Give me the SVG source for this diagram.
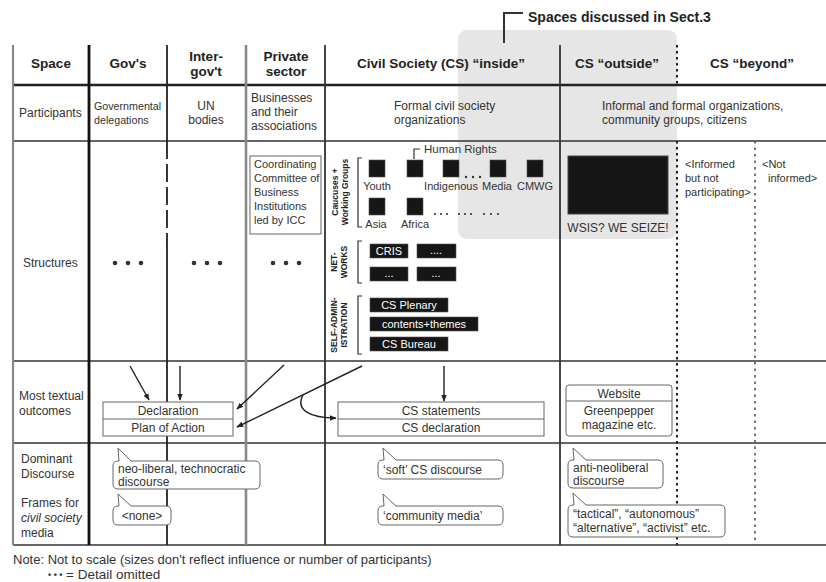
<svg xmlns="http://www.w3.org/2000/svg" width="826" height="582" viewBox="0 0 826 582">
<defs>
<style>
text{font-family:"Liberation Sans",Arial,sans-serif;font-size:12px;fill:#333}
.b{font-weight:bold;fill:#222;font-size:13.5px}
.c{text-anchor:middle}
.s{font-size:11px}
.rot{font-size:8.5px;font-weight:bold;text-anchor:middle;fill:#222}
.w{fill:#fff;font-size:11px;text-anchor:middle}
.it{font-style:italic}
.ln{stroke:#333;stroke-width:1.6;fill:none}
.box{fill:#fff;stroke:#666;stroke-width:1}
.blk{fill:#161616;stroke:#555;stroke-width:0.6}
.arr{stroke:#222;stroke-width:1.4;fill:none;marker-end:url(#ah)}
.brk{stroke:#333;stroke-width:1.2;fill:none}
.dot{fill:#333}
</style>
<marker id="ah" viewBox="0 0 10 10" refX="9" refY="5" markerWidth="7" markerHeight="7" orient="auto" markerUnits="userSpaceOnUse"><path d="M0,1 L10,5 L0,9 z" fill="#222"/></marker>
<g id="bigdots"><circle cx="-13" cy="0" r="2.3"/><circle cx="0" cy="0" r="2.3"/><circle cx="13" cy="0" r="2.3"/></g>
</defs>
<rect width="826" height="582" fill="#fff"/>

<g id="sect3">
<rect x="458" y="30" width="219" height="209" rx="9" fill="#e6e6e6"/>
<path d="M504,43 V13 H523" stroke="#333" stroke-width="2" fill="none"/>
<text x="528" y="22" class="b" style="font-size:14px">Spaces discussed in Sect.3</text>
</g>

<g id="grid">
<line x1="13" y1="85" x2="826" y2="85" stroke="#222" stroke-width="2.6"/>
<line x1="13" y1="141" x2="826" y2="141" class="ln"/>
<line x1="13" y1="361" x2="826" y2="361" class="ln"/>
<line x1="13" y1="443" x2="826" y2="443" class="ln"/>
<line x1="13" y1="545" x2="826" y2="545" class="ln"/>
<line x1="13" y1="45" x2="13" y2="545" stroke="#888" stroke-width="2.2"/>
<line x1="89" y1="45" x2="89" y2="545" stroke="#111" stroke-width="2.8"/>
<line x1="167" y1="45" x2="167" y2="141" stroke="#222" stroke-width="1.8"/>
<line x1="167" y1="141" x2="167" y2="245" stroke="#222" stroke-width="1.8" stroke-dasharray="18,5"/>
<line x1="167" y1="245" x2="167" y2="545" stroke="#222" stroke-width="1.8"/>
<line x1="246" y1="45" x2="246" y2="545" stroke="#888" stroke-width="2.6"/>
<line x1="325" y1="45" x2="325" y2="545" stroke="#333" stroke-width="1.8"/>
<line x1="560" y1="45" x2="560" y2="545" stroke="#333" stroke-width="1.8"/>
<line x1="677" y1="45" x2="677" y2="85" stroke="#222" stroke-width="2" stroke-dasharray="2.5,3.5"/>
<line x1="677" y1="141" x2="677" y2="545" stroke="#222" stroke-width="2" stroke-dasharray="2.5,3.5"/>
<line x1="755" y1="141" x2="755" y2="545" stroke="#555" stroke-width="1.6" stroke-dasharray="2.5,4"/>
</g>

<g id="header">
<text x="51" y="68" class="b c">Space</text>
<text x="128" y="68" class="b c">Gov's</text>
<text x="206" y="61" class="b c">Inter-</text>
<text x="206" y="76" class="b c">gov't</text>
<text x="286" y="61" class="b c">Private</text>
<text x="286" y="76" class="b c">sector</text>
<text x="441" y="68" class="b c">Civil Society (CS) “inside”</text>
<text x="617" y="68" class="b c">CS “outside”</text>
<text x="752" y="68" class="b c">CS “beyond”</text>
</g>

<g id="participants">
<text x="19" y="117">Participants</text>
<text x="94" y="110" style="font-size:10.7px">Governmental</text>
<text x="94" y="124" style="font-size:10.7px">delegations</text>
<text x="206" y="110" class="c">UN</text>
<text x="206" y="124" class="c">bodies</text>
<text x="251" y="102">Businesses</text>
<text x="251" y="116">and their</text>
<text x="251" y="130">associations</text>
<text x="394" y="110">Formal civil society</text>
<text x="394" y="124">organizations</text>
<text x="602" y="110">Informal and formal organizations,</text>
<text x="602" y="124">community groups, citizens</text>
</g>

<g id="structures">
<text x="23" y="267">Structures</text>
<use href="#bigdots" x="128" y="263" class="dot"/>
<use href="#bigdots" x="207" y="263" class="dot"/>
<use href="#bigdots" x="286" y="263" class="dot"/>
</g>

<g id="icc">
<rect x="250" y="156" width="71" height="78" class="box"/>
<text x="254" y="168" class="s">Coordinating</text>
<text x="254" y="182" class="s">Committee of</text>
<text x="254" y="196" class="s">Business</text>
<text x="254" y="210" class="s">Institutions</text>
<text x="254" y="224" class="s">led by ICC</text>
</g>

<g id="caucuses">
<text transform="translate(338,192) rotate(-90)" class="rot">Caucuses +</text>
<text transform="translate(347.5,192) rotate(-90)" class="rot">Working Groups</text>
<path d="M362,158 H358 V227 H362" class="brk"/>
<rect x="369" y="160" width="16" height="17" class="blk"/>
<rect x="407" y="160" width="16" height="17" class="blk"/>
<rect x="443" y="160" width="16" height="17" class="blk"/>
<rect x="490" y="160" width="16" height="17" class="blk"/>
<rect x="527" y="160" width="16" height="17" class="blk"/>
<path d="M414,159 V149 H420" class="brk" stroke-width="1"/>
<text x="424" y="153" style="font-size:11.5px">Human Rights</text>
<circle cx="466" cy="177" r="1.2" class="dot"/><circle cx="473" cy="177" r="1.2" class="dot"/><circle cx="480" cy="177" r="1.2" class="dot"/>
<text x="377" y="190" class="c s">Youth</text>
<text x="451" y="190" class="c s">Indigenous</text>
<text x="497" y="190" class="c s">Media</text>
<text x="535" y="190" class="c s">CMWG</text>
<rect x="369" y="198" width="16" height="17" class="blk"/>
<rect x="407" y="198" width="16" height="17" class="blk"/>
<circle cx="435" cy="214" r="1.1" class="dot"/><circle cx="441" cy="214" r="1.1" class="dot"/><circle cx="447" cy="214" r="1.1" class="dot"/>
<circle cx="459" cy="214" r="1.1" class="dot"/><circle cx="465" cy="214" r="1.1" class="dot"/><circle cx="471" cy="214" r="1.1" class="dot"/>
<circle cx="484" cy="214" r="1.1" class="dot"/><circle cx="491" cy="214" r="1.1" class="dot"/><circle cx="498" cy="214" r="1.1" class="dot"/>
<text x="376" y="228" class="c s">Asia</text>
<text x="415" y="228" class="c s">Africa</text>
</g>

<g id="networks">
<text transform="translate(337,262) rotate(-90)" class="rot">NET-</text>
<text transform="translate(346.5,262) rotate(-90)" class="rot">WORKS</text>
<path d="M362,241 H358 V283 H362" class="brk"/>
<rect x="370" y="244" width="38" height="14" class="blk"/>
<text x="389" y="255" class="w">CRIS</text>
<rect x="417" y="244" width="39" height="14" class="blk"/>
<text x="436" y="254" class="w">....</text>
<rect x="370" y="267" width="38" height="14" class="blk"/>
<text x="389" y="277" class="w">...</text>
<rect x="417" y="267" width="39" height="14" class="blk"/>
<text x="436" y="277" class="w">...</text>
</g>

<g id="selfadmin">
<text transform="translate(337,325) rotate(-90)" class="rot">SELF-ADMIN-</text>
<text transform="translate(346.5,325) rotate(-90)" class="rot">ISTRATION</text>
<path d="M362,296 H358 V354 H362" class="brk"/>
<rect x="370" y="298" width="78" height="14" class="blk"/>
<text x="409" y="309" class="w">CS Plenary</text>
<rect x="370" y="317" width="108" height="14" class="blk"/>
<text x="424" y="328" class="w">contents+themes</text>
<rect x="370" y="337" width="78" height="14" class="blk"/>
<text x="409" y="348" class="w">CS Bureau</text>
</g>

<g id="wsis">
<rect x="568" y="156" width="100" height="58" fill="#161616" stroke="#444" stroke-width="1"/>
<text x="618" y="232" class="c">WSIS? WE SEIZE!</text>
</g>

<g id="beyond">
<text x="685" y="168" class="s">&lt;Informed</text>
<text x="685" y="182" class="s">but not</text>
<text x="685" y="196" class="s">participating&gt;</text>
<text x="762" y="168" class="s">&lt;Not</text>
<text x="768" y="182" class="s">informed&gt;</text>
</g>

<g id="connectors">
<path d="M130,366 L149,400" class="arr"/>
<path d="M180,366 L180,400" class="arr"/>
<path d="M284,365 L237,409" class="arr"/>
<path d="M362,366 L237,427" class="arr"/>
<path d="M303,395 C295,410 310,418 336,418" class="arr"/>
<path d="M444,366 L444,401" class="arr"/>
</g>

<g id="outcomes">
<text x="19" y="400">Most textual</text>
<text x="19" y="415">outcomes</text>
</g>

<g id="declaration">
<rect x="103" y="402" width="130" height="34" class="box"/>
<line x1="103" y1="419" x2="233" y2="419" stroke="#666" stroke-width="1"/>
<text x="168" y="415" class="c">Declaration</text>
<text x="168" y="432" class="c">Plan of Action</text>
</g>

<g id="csstatements">
<rect x="338" y="402" width="206" height="34" class="box"/>
<line x1="338" y1="419" x2="544" y2="419" stroke="#666" stroke-width="1"/>
<text x="441" y="415" class="c">CS statements</text>
<text x="441" y="432" class="c">CS declaration</text>
</g>

<g id="website">
<rect x="566" y="385" width="106" height="51" rx="3" class="box"/>
<line x1="566" y1="401" x2="672" y2="401" stroke="#666" stroke-width="1"/>
<text x="619" y="398" class="c">Website</text>
<text x="619" y="415" class="c">Greenpepper</text>
<text x="619" y="429" class="c">magazine etc.</text>
</g>

<g id="discourse">
<text x="21" y="463">Dominant</text>
<text x="21" y="478">Discourse</text>
<text x="21" y="507">Frames for</text>
<text x="21" y="522" class="it">civil society</text>
<text x="21" y="537">media</text>
</g>

<g id="c-neolib">
<path d="M119,461 L118,448 L131,461 L255,461 Q260,461 260,466 L260,484 Q260,489 255,489 L118,489 Q113,489 113,484 L113,466 Q113,461 118,461 Z" class="box"/>
<text x="118" y="473">neo-liberal, technocratic</text>
<text x="118" y="486">discourse</text>
</g>
<g id="c-none">
<path d="M119,506 L118,494 L131,506 L166,506 Q171,506 171,511 L171,520 Q171,525 166,525 L118,525 Q113,525 113,520 L113,511 Q113,506 118,506 Z" class="box"/>
<text x="142" y="520" class="c">&lt;none&gt;</text>
</g>
<g id="c-soft">
<path d="M384,460 L383,448 L396,460 L498,460 Q503,460 503,465 L503,474 Q503,479 498,479 L383,479 Q378,479 378,474 L378,465 Q378,460 383,460 Z" class="box"/>
<text x="383" y="474">‘soft’ CS discourse</text>
</g>
<g id="c-community">
<path d="M384,506 L383,494 L396,506 L498,506 Q503,506 503,511 L503,520 Q503,525 498,525 L383,525 Q378,525 378,520 L378,511 Q378,506 383,506 Z" class="box"/>
<text x="383" y="520">‘community media’</text>
</g>
<g id="c-anti">
<path d="M574,460 L573,448 L586,460 L658,460 Q663,460 663,465 L663,483 Q663,488 658,488 L573,488 Q568,488 568,483 L568,465 Q568,460 573,460 Z" class="box"/>
<text x="573" y="472">anti-neoliberal</text>
<text x="573" y="485">discourse</text>
</g>
<g id="c-tactical">
<path d="M574,505 L573,493 L586,505 L720,505 Q725,505 725,510 L725,532 Q725,537 720,537 L573,537 Q568,537 568,532 L568,510 Q568,505 573,505 Z" class="box"/>
<text x="573" y="518">“tactical”, “autonomous”</text>
<text x="573" y="532">“alternative”, “activist” etc.</text>
</g>

<g id="note">
<text x="13" y="564" style="font-size:13px">Note: Not to scale (sizes don't reflect influence or number of participants)</text>
<text x="48" y="578" style="font-size:9px;font-weight:bold">• • •</text>
<text x="66" y="579" style="font-size:13.5px">= Detail omitted</text>
</g>
</svg>
